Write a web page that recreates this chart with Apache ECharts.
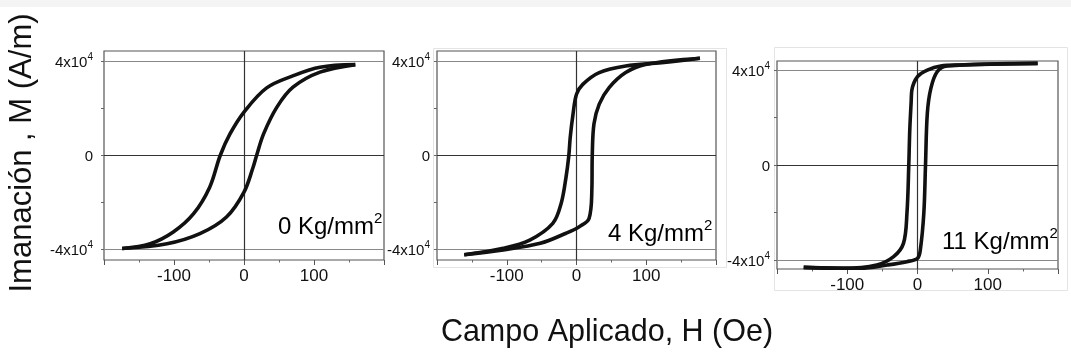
<!DOCTYPE html>
<html>
<head>
<meta charset="utf-8">
<script src="https://cdn.jsdelivr.net/npm/echarts@6/dist/echarts.min.js"></script>
<style>
html,body{margin:0;padding:0;background:#fff;}
#c{width:1071px;height:359px;}
</style>
</head>
<body>
<div id="c"></div>
<script>
// ---- Data (H in Oe, M in A/m) ----
// Panel 1: 0 Kg/mm2
const p1DownH = [159, 108.6, 70.5, 32.4, 0, -20, -34, -49, -72, -101, -134, -174];
const p1DownM = [38700, 37600, 34000, 28800, 18500, 9200, 0, -13500, -24800, -32600, -37600, -39600];
const p1UpH   = [-174, -110, -63, -25, 0, 13, 18, 28, 47, 70, 108.6, 159];
const p1UpM   = [-39600, -37600, -33300, -26200, -15600, -5000, 0, 9200, 20600, 29100, 35500, 38700];
// Panel 2: 4 Kg/mm2
const p2DownH = [177, 122, 70.5, 32.6, 9, 0, -5, -9, -11, -15, -22, -34, -67, -105, -161];
const p2DownM = [41400, 39500, 38100, 35300, 30300, 26100, 17600, 7700, 0, -9200, -20400, -28900, -36000, -39500, -42300];
const p2UpH   = [-161, -105, -52, -15, 4, 18, 22, 22.6, 25, 32.6, 46.8, 70.5, 99, 177];
const p2UpM   = [-42300, -40200, -37400, -33100, -30300, -26800, -14800, 0, 13400, 21900, 28900, 35300, 38800, 41400];
// Panel 3: 11 Kg/mm2
const p3DownH = [171, 61, 33, 14, 0, -8, -9, -11, -12.4, -15, -20, -34, -58, -105, -162];
const p3DownM = [42800, 42100, 41700, 40000, 37200, 31600, 26700, 14700, 0, -20300, -33000, -38600, -42100, -43500, -43100];
const p3UpH   = [-162, -81, -43, -15, 0, 4, 9, 11.4, 14, 19, 28, 42, 171];
const p3UpM   = [-43100, -43500, -42100, -40700, -39300, -35800, -20300, 0, 21800, 32300, 39300, 41700, 42800];

const xLabelValues = [-100, 0, 100];
const yLabelValues = [-40000, 0, 40000];
const yTickValues = [-40000, -20000, 0, 20000, 40000];
const panelLabels = ['0 Kg/mm', '4 Kg/mm', '11 Kg/mm'];

function zip(h, m) { return h.map((v, i) => [v, m[i]]); }

const grids = [
  {left: 104, top: 51, width: 280, height: 209, ymax: 44500, lmargin: 11},
  {left: 437, top: 51, width: 279, height: 209, ymax: 44500, lmargin: 7},
  {left: 777, top: 61, width: 281, height: 208, ymax: 43800, lmargin: 7}
];
const panels = [
  [zip(p1DownH, p1DownM), zip(p1UpH, p1UpM)],
  [zip(p2DownH, p2DownM), zip(p2UpH, p2UpM)],
  [zip(p3DownH, p3DownM), zip(p3UpH, p3UpM)]
];

const FONT = '"Liberation Sans", Arial, sans-serif';

const option = {
  animation: false,
  backgroundColor: '#ffffff',
  grid: grids.map(g => ({left: g.left, top: g.top, width: g.width, height: g.height,
    show: true, borderColor: '#555', borderWidth: 1.2, backgroundColor: 'transparent'})),
  xAxis: grids.map((g, i) => ({
    type: 'value', gridIndex: i, min: -200, max: 200, interval: 100,
    axisLine: {show: false, onZero: false},
    axisTick: {show: true, length: 5, lineStyle: {color: '#555'}},
    minorTick: {show: true, splitNumber: 2, length: 2.5, lineStyle: {color: '#666'}},
    splitLine: {show: false},
    axisLabel: {customValues: xLabelValues, fontSize: 17, color: '#111', fontFamily: FONT, margin: 8}
  })),
  yAxis: grids.map((g, i) => ({
    type: 'value', gridIndex: i, min: -g.ymax, max: g.ymax,
    axisLine: {show: false, onZero: false},
    axisTick: {show: true, length: 3, customValues: yTickValues, lineStyle: {color: '#666'}},
    splitLine: {show: false},
    axisLabel: {customValues: yLabelValues, color: '#111', fontFamily: FONT, margin: g.lmargin,
      formatter: v => v === 0 ? '{a|0}' : (v > 0 ? '{a|4x10}{s|4}' : '{a|-4x10}{s|4}'),
      rich: {
        a: {fontSize: 15, fontFamily: FONT, color: '#111', lineHeight: 18, verticalAlign: 'bottom'},
        s: {fontSize: 10, fontFamily: FONT, color: '#111', lineHeight: 18, verticalAlign: 'top'}
      }}
  })),
  series: [],
  graphic: []
};

panels.forEach((p, i) => {
  p.forEach((d, j) => {
    const s = {
      type: 'line', xAxisIndex: i, yAxisIndex: i, data: d,
      showSymbol: false, smooth: 0.35, z: 5,
      lineStyle: {color: '#111', width: 3.6}
    };
    if (j === 0) {
      s.markLine = {
        silent: true, symbol: 'none', label: {show: false}, z: 2,
        data: [
          {yAxis: 40000, lineStyle: {color: '#888', width: 1, type: 'solid'}},
          {yAxis: -40000, lineStyle: {color: '#888', width: 1, type: 'solid'}},
          {yAxis: 0, lineStyle: {color: '#333', width: 1.2, type: 'solid'}},
          {xAxis: 0, lineStyle: {color: '#333', width: 1.2, type: 'solid'}}
        ]
      };
    }
    option.series.push(s);
  });
});

option.graphic = [
  {type: 'rect', left: 0, top: 0, shape: {width: 1071, height: 7}, style: {fill: '#f4f4f4'}, z: -10},
  {type: 'rect', left: 431, top: 46, shape: {width: 293, height: 219}, style: {fill: 'none', stroke: '#e4e4e4', lineWidth: 1}, z: -10},
  {type: 'rect', left: 772, top: 45, shape: {width: 293, height: 243}, style: {fill: 'none', stroke: '#e4e4e4', lineWidth: 1}, z: -10},
  {type: 'text', x: 22, y: 153, rotation: Math.PI / 2,
    style: {text: 'Imanación , M (A/m)', font: '31px ' + FONT, fill: '#111', textAlign: 'center', textVerticalAlign: 'middle'}},
  {type: 'text', x: 607, y: 333,
    style: {text: 'Campo Aplicado, H (Oe)', font: '30.5px ' + FONT, fill: '#111', textAlign: 'center', textVerticalAlign: 'middle'}},
];
const labelPos = [[278, 225], [608, 232], [942, 240]];
panelLabels.forEach((t, i) => {
  option.graphic.push({
    type: 'text', x: labelPos[i][0], y: labelPos[i][1], z: 20,
    style: {
      text: '{a|' + t + '}{b|2}',
      textVerticalAlign: 'middle',
      rich: {
        a: {fontSize: 24, fontFamily: FONT, color: '#111', lineHeight: 28, verticalAlign: 'bottom'},
        b: {fontSize: 15, fontFamily: FONT, color: '#111', lineHeight: 28, verticalAlign: 'top'}
      }
    }
  });
});

const chart = echarts.init(document.getElementById('c'), null, {renderer: 'canvas'});
chart.setOption(option);
</script>
</body>
</html>
